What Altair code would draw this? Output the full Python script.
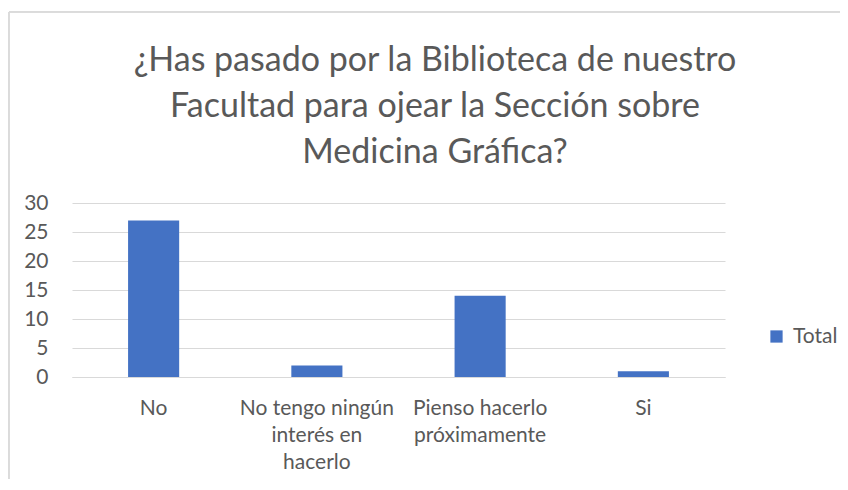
import altair as alt
import pandas as pd

categories = ["No", "No tengo ningún interés en hacerlo", "Pienso hacerlo próximamente", "Si"]
label_lines = [["No"], ["No tengo ningún", "interés en", "hacerlo"], ["Pienso hacerlo", "próximamente"], ["Si"]]
values = [27, 2, 14, 1]
series = "Total"
title_lines = ["¿Has pasado por la Biblioteca de nuestro", " Facultad para ojear la Sección sobre", "Medicina Gráfica?"]

df = pd.DataFrame({"cat": categories, "val": values, "serie": [series] * len(values)})
title_df = pd.DataFrame({"t": ["\n".join(title_lines)]})

expr = "''"
for c, lines in reversed(list(zip(categories, label_lines))):
    arr = "[" + ",".join("'" + l + "'" for l in lines) + "]"
    expr = f"datum.value == '{c}' ? {arr} : ({expr})"

FONT = "Lato"
GREY = "#595959"

bars = alt.Chart(df).mark_bar(color="#4472C4").encode(
    x=alt.X("cat:N", sort=categories, title=None,
            scale=alt.Scale(paddingInner=0.687, paddingOuter=0.3435),
            axis=alt.Axis(labelExpr=expr, labelAngle=0, labelFontSize=21, labelColor=GREY,
                          labelFont=FONT, ticks=False, domainColor="#d9d9d9", labelPadding=20,
                          labelLineHeight=27, labelBaseline="top")),
    y=alt.Y("val:Q", title=None,
            scale=alt.Scale(domain=[0, 30]),
            axis=alt.Axis(values=[0, 5, 10, 15, 20, 25, 30], labelFontSize=21, labelColor=GREY,
                          labelFont=FONT, ticks=False, domain=False, gridColor="#d9d9d9",
                          labelPadding=24)),
    color=alt.Color("serie:N", scale=alt.Scale(range=["#4472C4"]), title=None,
                    legend=alt.Legend(orient="none", legendX=694, legendY=123, symbolType="square",
                                      symbolSize=150, labelFontSize=21, labelColor=GREY,
                                      labelFont=FONT, symbolStrokeWidth=0, labelOffset=6)),
)

title = alt.Chart(title_df).mark_text(
    font=FONT, fontSize=34, color=GREY, lineBreak="\n", lineHeight=46,
    align="center", baseline="alphabetic").encode(
    text="t:N", x=alt.value(363), y=alt.value(-132))

frame_left = alt.Chart(df).mark_rule(color="#d9d9d9").encode(
    x=alt.value(-63), y=alt.value(-191), y2=alt.value(320))
frame_top = alt.Chart(df).mark_rule(color="#d9d9d9").encode(
    x=alt.value(-63), x2=alt.value(850), y=alt.value(-191))

chart = alt.layer(frame_left, frame_top, title, bars).properties(
    width=653, height=174,
    autosize=alt.AutoSizeParams(type="none"),
    padding={"left": 64, "top": 195, "right": 115, "bottom": 102},
).configure_view(stroke=None)

chart.save("out.html", embed_options={"renderer": "svg", "actions": False})
